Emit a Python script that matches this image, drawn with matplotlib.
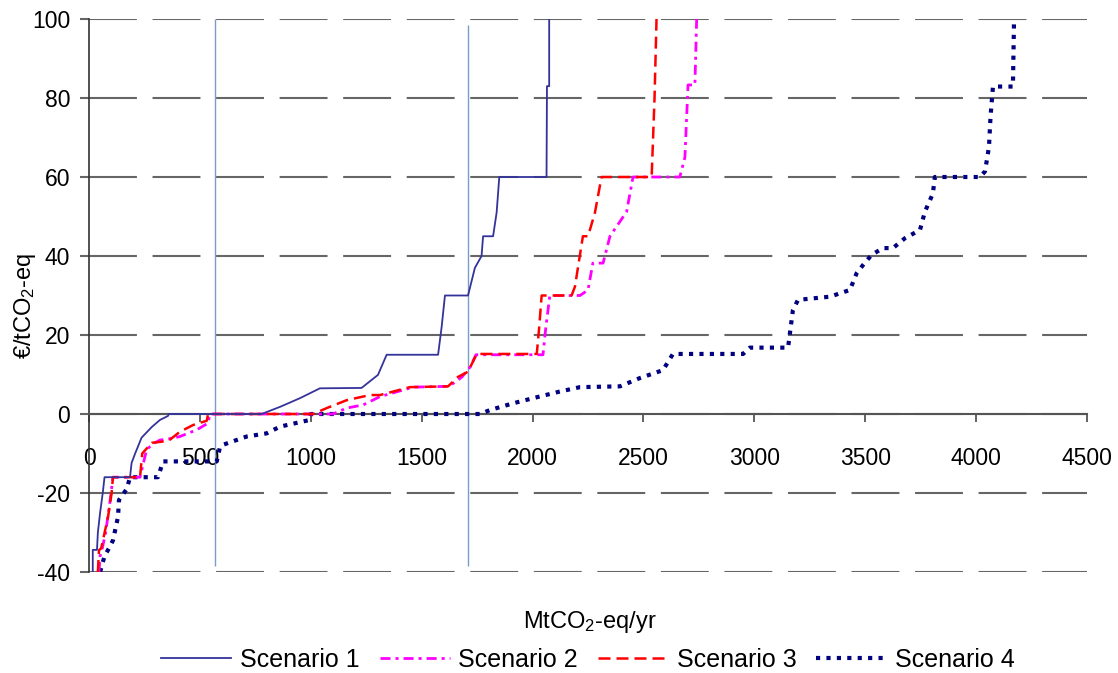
import matplotlib
matplotlib.use("Agg")
import matplotlib.pyplot as plt

plt.rcParams['font.family'] = ['Liberation Sans', 'DejaVu Sans']
plt.rcParams['mathtext.fontset'] = 'custom'
plt.rcParams['mathtext.rm'] = 'Liberation Sans'
plt.rcParams['mathtext.default'] = 'regular'
plt.rcParams['axes.unicode_minus'] = False

# Marginal abatement cost curves
s1_x = [17, 17, 36, 40, 50, 62, 70, 75, 185, 192, 208, 237, 283, 320, 356, 360, 778, 861, 951, 1041,
        1229, 1303, 1342, 1574, 1590, 1605, 1709, 1740, 1770, 1777, 1822, 1838, 1850, 2063, 2065,
        2075, 2075]
s1_y = [-40, -34.4, -34.4, -30, -25, -20, -16, -16, -16, -12.4, -10, -6, -3.3, -1.5, -0.5, 0, 0, 1.8,
        4, 6.5, 6.6, 9.9, 15, 15, 22, 30, 30, 37, 40, 45, 45, 51, 60, 60, 83, 83, 100]

s2_x = [45, 50, 60, 75, 95, 108, 150, 230, 260, 290, 320, 360, 410, 486, 537, 545, 1100, 1162, 1236,
        1312, 1462, 1619, 1650, 1682, 1720, 1745, 2047, 2060, 2078, 2214, 2250, 2272, 2318, 2349,
        2424, 2453, 2664, 2687, 2701, 2732, 2740]
s2_y = [-40, -36, -34, -30, -22, -16, -16, -16, -9, -7.5, -6.6, -6.3, -5.7, -4, -2.3, 0, 0, 1.5, 2.3,
        4.4, 6.8, 7, 8, 9.4, 12, 15, 15, 22, 30, 30, 31.4, 38.2, 38.2, 45, 51.2, 60, 60, 65, 83.3,
        83.3, 100]

s3_x = [40, 45, 55, 86, 102, 108, 230, 240, 283, 330, 365, 410, 469, 531, 537, 1010, 1072, 1162,
        1267, 1312, 1447, 1619, 1664, 1709, 1748, 2019, 2030, 2041, 2176, 2191, 2227, 2250, 2281,
        2311, 2537, 2550, 2559]
s3_y = [-40, -34.5, -34, -26, -20, -16, -16, -10, -7.3, -7, -6.5, -4.5, -2.8, -1.7, 0, 0, 1.5, 3.5,
        4.8, 4.8, 6.8, 7, 9.4, 10.7, 15.2, 15.2, 22, 30, 30, 32.2, 45, 45, 50.9, 60, 60, 80, 100]

s4_x = [50, 70, 90, 108, 131, 135, 170, 185, 311, 334, 576, 590, 604, 711, 801, 861, 996, 1000, 1763,
        1808, 1912, 2002, 2124, 2214, 2394, 2484, 2588, 2633, 2949, 2980, 3152, 3174, 3197, 3341,
        3431, 3461, 3490, 3529, 3580, 3625, 3679, 3747, 3769, 3805, 3814, 4017, 4040, 4058, 4065,
        4076, 4166, 4171]
s4_y = [-40, -36, -34, -32, -26, -21.8, -19, -16, -16, -12, -12, -8.5, -7.8, -5.7, -4.9, -3.2, -1.5,
        0, 0, 1, 2.7, 4, 5.7, 6.8, 7, 9.1, 11.1, 15.2, 15.2, 16.8, 16.8, 26.3, 28.9, 29.7, 31.4,
        35.6, 37.7, 40.3, 42, 42, 44.5, 46.6, 51.2, 55.8, 60, 60, 61.4, 67.6, 75.3, 82.9, 82.9, 100]

labels = ['Scenario 1', 'Scenario 2', 'Scenario 3', 'Scenario 4']
marker_lines = [(570, -38.5, 100), (1710, -38.5, 98.5)]

fig = plt.figure(figsize=(11.18, 6.73), dpi=100)
ax = fig.add_axes([89 / 1118, 1 - 572 / 673, (1087 - 89) / 1118, (572 - 19) / 673])

ax.set_xlim(0, 4500)
ax.set_ylim(-40, 100)
ax.set_xticks(range(0, 4501, 500))
ax.set_yticks(range(-40, 101, 20))

# dashed horizontal grid
ax.grid(axis='y', color='#666666', lw=1.5, linestyle=(0, (23, 7.5)))
ax.set_axisbelow(True)

for s in ['top', 'right']:
    ax.spines[s].set_visible(False)
ax.spines['bottom'].set_position(('data', 0))
ax.spines['bottom'].set_color('#555555')
ax.spines['bottom'].set_linewidth(1.5)
ax.spines['left'].set_color('#333333')
ax.spines['left'].set_linewidth(1.2)

ax.tick_params(axis='x', direction='out', length=6, width=1.3, color='#555555',
               pad=18, labelsize=16.5)
ax.tick_params(axis='y', direction='out', length=6.5, width=1.5, color='#666666',
               pad=7, labelsize=16.5)

for xv, y0, y1 in marker_lines:
    ax.vlines(xv, y0, y1, color='#7a9cc8', lw=1.0, zorder=2)

ax.plot(s1_x, s1_y, color='#33339a', lw=1.3, label=labels[0], zorder=5)
ax.plot(s2_x, s2_y, color='#ff00ff', lw=2, linestyle=(0, (3.6, 1.8, 1.1, 1.8)),
        label=labels[1], zorder=4)
ax.plot(s3_x, s3_y, color='#ff0000', lw=1.8, linestyle=(0, (4.8, 2.4)),
        label=labels[2], zorder=4)
ax.plot(s4_x, s4_y, color='#000080', lw=3, linestyle=(0, (1, 1.5)),
        label=labels[3], zorder=3)

fig.text(590 / 1118, 1 - 622 / 673, 'MtCO$_2$-eq/yr', ha='center', va='center', fontsize=17)
fig.text(25 / 1118, 1 - 306 / 673, '€/tCO$_2$-eq', ha='center', va='center',
         rotation=90, fontsize=17)

fig.legend(loc='center', bbox_to_anchor=(588 / 1118, 1 - 660 / 673), ncol=4, frameon=False,
           fontsize=18, handlelength=2.8, handletextpad=0.35, columnspacing=0.8)

fig.savefig('out.png', dpi=100)
